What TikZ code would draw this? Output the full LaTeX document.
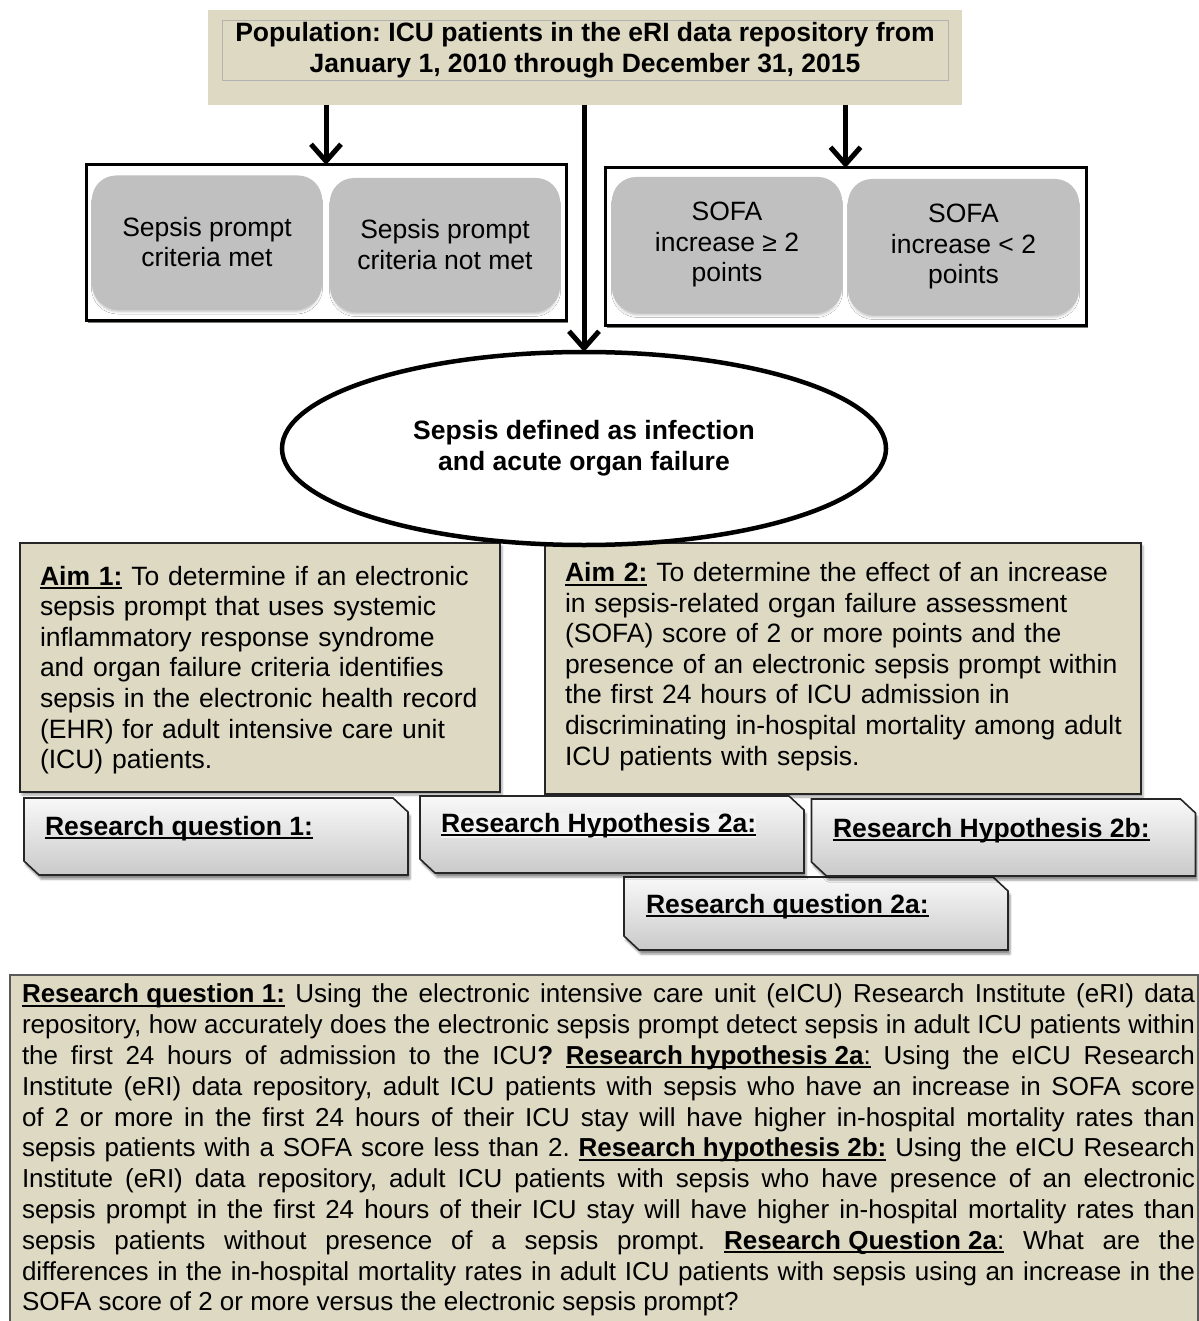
\documentclass[tikz,border=0pt]{standalone}
\usepackage{fontspec}
\setmainfont{Liberation Sans}
\usetikzlibrary{arrows.meta,shapes.geometric,shadows,shadows.blur}
\definecolor{beige}{HTML}{DDD9C3}
\definecolor{boxgray}{HTML}{C0C0C0}
\newlength{\myulw}
\newcommand{\myul}[1]{\settowidth{\myulw}{#1}\rlap{#1}\rule[-4pt]{\myulw}{2pt}}
\newcommand{\mytxt}{\fontsize{26.5}{30.6}\selectfont}
\newcommand{\bodytxt}{\fontsize{26}{30.8}\selectfont}
\newcommand{\hd}[1]{\textbf{\myul{#1}}}
\frenchspacing
\begin{document}
\begin{tikzpicture}[x=1pt,y=-1pt,
  every node/.style={inner sep=0pt, outer sep=0pt},
  popbox/.style={fill=beige, minimum width=754pt, minimum height=95pt},
  poptxt/.style={draw=gray!60, line width=0.8pt, minimum width=726pt, minimum height=60pt, align=center, font=\mytxt\bfseries},
  whitebox/.style={draw=black, line width=3pt, fill=white, drop shadow={shadow xshift=2pt, shadow yshift=-3pt, fill=black!70!olive, opacity=0.7}},
  graybox/.style={rectangle, rounded corners=24pt, fill=boxgray, minimum width=230pt, minimum height=133pt, align=center, font=\mytxt, blur shadow={shadow xshift=0pt, shadow yshift=-4pt, shadow scale=0.98, shadow opacity=30, shadow blur radius=3pt}},
  aimbox/.style={draw=black!85, line width=1.5pt, fill=beige, blur shadow={shadow xshift=2pt, shadow yshift=-3pt, shadow opacity=35}},
  aimtxt/.style={align=left, font=\mytxt},
  banframe/.style={minimum width=384pt, minimum height=77pt},
  banner/.style={draw=black!85, line width=1.6pt, top color=gray!5, bottom color=gray!42, blur shadow={shadow xshift=2pt, shadow yshift=-4pt, shadow opacity=45}},
  bantxt/.style={anchor=base west, font=\mytxt},
  arr/.style={line width=5pt, -{Straight Barb[length=17pt, width=30pt]}},
  oval/.style={ellipse, draw=black, line width=4.5pt, fill=white, minimum width=604pt, minimum height=193pt, align=center, font=\mytxt\bfseries}
]
\useasboundingbox (0,0) rectangle (1198,1321);

% population
\node[popbox] (pop) at (585,57.5) {};
\node[poptxt] (popt) at (585,50) {Population: ICU patients in the eRI data repository from\\January 1, 2010 through December 31, 2015};

% group boxes
\node[whitebox, minimum width=480pt, minimum height=155pt] (lbox) at (326,242.5) {};
\node[whitebox, minimum width=481pt, minimum height=157pt] (rbox) at (845.5,246.5) {};
\node[graybox] (g1) at (207,242) {Sepsis prompt\\criteria met};
\node[graybox] (g2) at (445,244.5) {Sepsis prompt\\criteria not met};
\node[graybox, minimum height=135pt] (g3) at (727,244.5) {SOFA\\increase ≥ 2\\points};
\node[graybox, minimum height=135pt, minimum width=231pt] (g4) at (963.5,246.5) {SOFA\\increase < 2\\points};

% aims
\node[aimbox, minimum width=480pt, minimum height=249pt] (aim1) at (260,667.5) {};
\node[aimtxt, text width=440pt] (aim1t) at (260,670) {\hd{Aim 1:} To determine if an electronic\\
sepsis prompt that uses systemic\\
inflammatory response syndrome\\
and organ failure criteria identifies\\
sepsis in the electronic health record\\
(EHR) for adult intensive care unit\\
(ICU) patients.};
\node[aimbox, minimum width=596pt, minimum height=251pt] (aim2) at (843,668.5) {};
\node[aimtxt, text width=560pt] (aim2t) at (845,666.5) {\hd{Aim 2:} To determine the effect of an increase\\
in sepsis-related organ failure assessment\\
(SOFA) score of 2 or more points and the\\
presence of an electronic sepsis prompt within\\
the first 24 hours of ICU admission in\\
discriminating in-hospital mortality among adult\\
ICU patients with sepsis.};

% ellipse
\node[oval] (sep) at (584,448.5) {Sepsis defined as infection\\and acute organ failure};

% arrows
\draw[arr] (pop.south -| lbox.north) -- (lbox.north);
\draw[arr] (pop.south -| rbox.north) -- (rbox.north);
\draw[arr] (pop.south -| sep.north) -- (sep.north);

% banners (snipped-corner shapes)
\node[banframe, minimum height=73pt] (rq2a) at (816,913.5) {};
\path[banner] (rq2a.north west) -- ([xshift=-15pt]rq2a.north east) -- ([yshift=-14pt]rq2a.north east) -- (rq2a.south east) -- ([xshift=15pt]rq2a.south west) -- ([yshift=14pt]rq2a.south west) -- cycle;
\node[bantxt] (rq2at) at (646,913) {\hd{Research question 2a:}};

\node[banframe] (rq1) at (216,836.5) {};
\path[banner] (rq1.north west) -- ([xshift=-15pt]rq1.north east) -- ([yshift=-14pt]rq1.north east) -- (rq1.south east) -- ([xshift=15pt]rq1.south west) -- ([yshift=14pt]rq1.south west) -- cycle;
\node[bantxt] (rq1t) at (45,835) {\hd{Research question 1:}};

\node[banframe] (rh2a) at (612,834.5) {};
\path[banner] (rh2a.north west) -- ([xshift=-15pt]rh2a.north east) -- ([yshift=-14pt]rh2a.north east) -- (rh2a.south east) -- ([xshift=15pt]rh2a.south west) -- ([yshift=14pt]rh2a.south west) -- cycle;
\node[bantxt, fill=gray!10] (rh2at) at (441,832) {\hd{Research Hypothesis 2a:}};

\node[banframe] (rh2b) at (1003.5,837.5) {};
\path[banner] (rh2b.north west) -- ([xshift=-15pt]rh2b.north east) -- ([yshift=-14pt]rh2b.north east) -- (rh2b.south east) -- ([xshift=15pt]rh2b.south west) -- ([yshift=14pt]rh2b.south west) -- cycle;
\node[bantxt] (rh2bt) at (833,837) {\hd{Research Hypothesis 2b:}};

% bottom box
\node[draw=gray!70!black, line width=1.2pt, fill=beige, minimum width=1188pt, minimum height=360pt, anchor=north west] (qbox) at (10,975) {};
\node[anchor=north west, text width=1173pt, align=justify, font=\bodytxt] (qtext) at (22,984) {\tolerance=10000\hyphenpenalty=10000\exhyphenpenalty=10000%
\hd{Research question 1:} Using the electronic intensive care unit (eICU) Research Institute (eRI) data\linebreak
repository, how accurately does the electronic sepsis prompt detect sepsis in adult ICU patients within\linebreak
the first 24 hours of admission to the ICU\textbf{?} \hd{Research hypothesis 2a}\myul{:} Using the eICU Research\linebreak
Institute (eRI) data repository, adult ICU patients with sepsis who have an increase in SOFA score\linebreak
of 2 or more in the first 24 hours of their ICU stay will have higher in-hospital mortality rates than\linebreak
sepsis patients with a SOFA score less than 2. \hd{Research hypothesis 2b:} Using the eICU Research\linebreak
Institute (eRI) data repository, adult ICU patients with sepsis who have presence of an electronic\linebreak
sepsis prompt in the first 24 hours of their ICU stay will have higher in-hospital mortality rates than\linebreak
sepsis patients without presence of a sepsis prompt. \hd{Research Question 2a}\myul{:} What are the\linebreak
differences in the in-hospital mortality rates in adult ICU patients with sepsis using an increase in the\linebreak
SOFA score of 2 or more versus the electronic sepsis prompt?};
\end{tikzpicture}
\end{document}
